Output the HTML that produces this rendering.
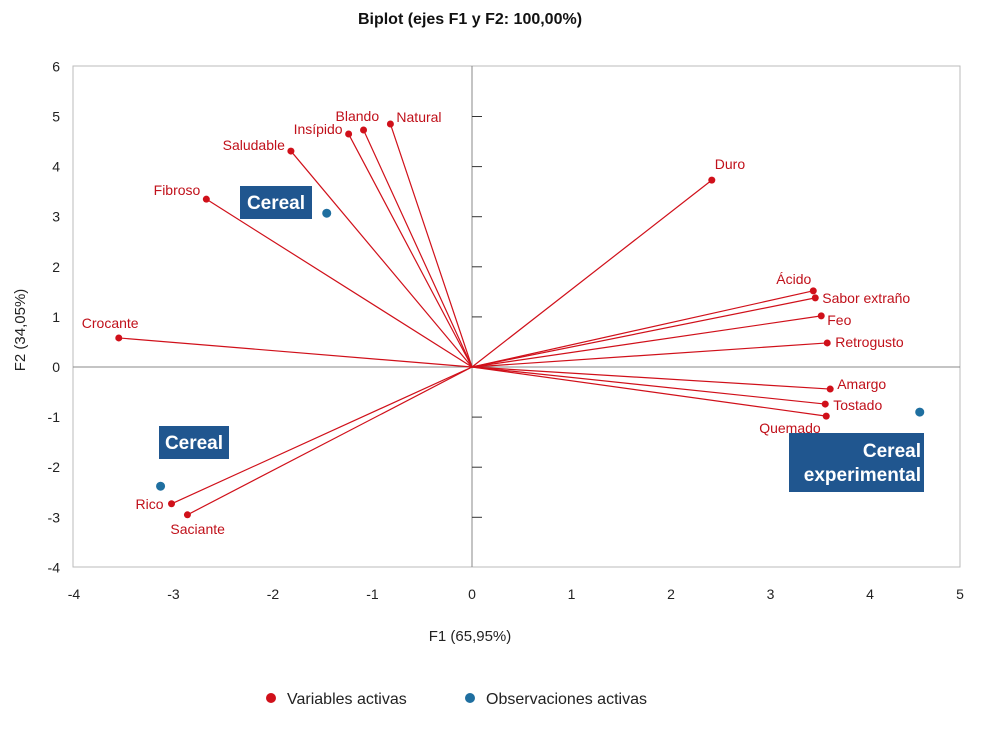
<!DOCTYPE html>
<html><head><meta charset="utf-8"><style>
body{margin:0;background:#fff;font-family:"Liberation Sans",sans-serif}
svg text{font-family:"Liberation Sans",sans-serif}
</style></head><body>
<svg id="chart" width="1002" height="730">
<text x="470" y="24" text-anchor="middle" font-size="16" font-weight="bold" fill="#111">Biplot (ejes F1 y F2: 100,00%)</text>
<rect x="73" y="66" width="887" height="501" fill="none" stroke="#bbb"/>
<g id="axes"></g>
<g id="vectors"></g>
<g id="obs"></g>
<text x="470" y="641" text-anchor="middle" font-size="15" fill="#222">F1 (65,95%)</text>
<text x="25" y="330" text-anchor="middle" font-size="15" fill="#222" transform="rotate(-90 25 330)">F2 (34,05%)</text>
<g>
<circle cx="271" cy="698" r="5" fill="#d0101a"/>
<text x="287" y="704" font-size="16" fill="#222">Variables activas</text>
<circle cx="470" cy="698" r="5" fill="#1f6fa0"/>
<text x="486" y="704" font-size="16" fill="#222">Observaciones activas</text>
</g>
</svg>
<script>
const varNames=["Crocante","Fibroso","Saludable","Insípido","Blando","Natural","Duro","Ácido","Sabor extraño","Feo","Retrogusto","Amargo","Tostado","Quemado","Rico","Saciante"];
const varF1=[-3.55,-2.67,-1.82,-1.24,-1.09,-0.82,2.41,3.43,3.45,3.51,3.57,3.60,3.55,3.56,-3.02,-2.86];
const varF2=[0.58,3.35,4.31,4.65,4.73,4.85,3.73,1.52,1.38,1.02,0.48,-0.44,-0.74,-0.98,-2.73,-2.95];
const obsNames=["Cereal","Cereal","Cereal experimental"];
const obsF1=[-1.46,-3.13,4.50];
const obsF2=[3.07,-2.38,-0.90];
const xTicks=[-4,-3,-2,-1,0,1,2,3,4,5];
const yTicks=[-4,-3,-2,-1,0,1,2,3,4,5,6];
const NS="http://www.w3.org/2000/svg";
function sx(v){return 472+v*99.5;}
function sy(v){return 367-v*50.1;}
function mk(tag,attrs,parent,txt){const e=document.createElementNS(NS,tag);for(const k in attrs)e.setAttribute(k,attrs[k]);if(txt!==undefined)e.textContent=txt;parent.appendChild(e);return e;}
const ax=document.getElementById('axes');
let l=mk('line',{x1:73,x2:960,y1:sy(0),y2:sy(0),stroke:'#888'},ax);


l=mk('line',{x1:sx(0),x2:sx(0),y1:66,y2:567,stroke:'#888'},ax);


xTicks.forEach(t=>{const x=Math.min(sx(t),960);
const e=mk('text',{x:x,y:599,'text-anchor':'middle','font-size':14,fill:'#222'},ax,String(t));

});
yTicks.forEach(t=>{const y=sy(t);
const e=mk('text',{x:60,y:y+5,'text-anchor':'end','font-size':14,fill:'#222'},ax,String(t));


if(t!==0&&t>-4&&t<6){const k=mk('line',{x1:sx(0),x2:sx(0)+10,y1:y,y2:y,stroke:'#333'},ax);

}});
const vg=document.getElementById('vectors');
const labOff={"Crocante":[-37,-10,'start'],"Fibroso":[-6,-4,'end'],"Saludable":[-6,-1,'end'],"Insípido":[-6,0,'end'],"Blando":[-28,-9,'start'],"Natural":[6,-2,'start'],"Duro":[3,-11,'start'],"Ácido":[-37,-7,'start'],"Sabor extraño":[7,5,'start'],"Feo":[6,9,'start'],"Retrogusto":[8,4,'start'],"Amargo":[7,0,'start'],"Tostado":[8,6,'start'],"Quemado":[-67,17,'start'],"Rico":[-8,5,'end'],"Saciante":[-17,19,'start']};
varNames.forEach((n,i)=>{const x=sx(varF1[i]),y=sy(varF2[i]);
const ln=mk('line',{x1:sx(0),y1:sy(0),x2:x,y2:y,stroke:'#d0101a','stroke-width':1.2},vg);


const c=mk('circle',{cx:x,cy:y,r:3.5,fill:'#d0101a'},vg);


const o=labOff[n]||[6,0,'start'];
const t=mk('text',{x:x+o[0],y:y+o[1],'text-anchor':o[2],'font-size':14,fill:'#c0101a'},vg,n);

});
const og=document.getElementById('obs');
const boxes=[[240,186,72,33],[159,426,70,33],[789,433,135,59]];
obsNames.forEach((n,i)=>{const c=mk('circle',{cx:sx(obsF1[i]),cy:sy(obsF2[i]),r:4.5,fill:'#1f6fa0'},og);


const b=boxes[i];
const r=mk('rect',{x:b[0],y:b[1],width:b[2],height:b[3],fill:'#20568f'},og);


if(i===2){
const t1=mk('text',{x:b[0]+b[2]-3,y:b[1]+24,'text-anchor':'end','font-size':19,'font-weight':'bold',fill:'#fff'},og,'Cereal');


const t2=mk('text',{x:b[0]+b[2]-3,y:b[1]+48,'text-anchor':'end','font-size':19,'font-weight':'bold',fill:'#fff'},og,'experimental');


}else{
const t=mk('text',{x:b[0]+b[2]/2,y:b[1]+23,'text-anchor':'middle','font-size':19,'font-weight':'bold',fill:'#fff'},og,n);

}});
</script>
</body></html>
